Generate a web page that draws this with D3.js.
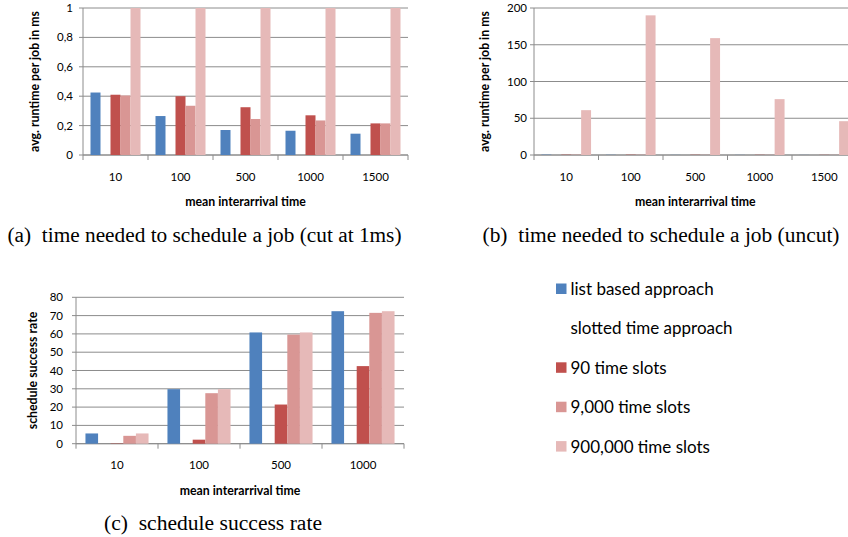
<!DOCTYPE html>
<html>
<head>
<meta charset="utf-8">
<script src="https://cdn.jsdelivr.net/npm/d3@7"></script>
<style>
  body { margin: 0; background: #fff; }
  svg text { font-family: Lato, "Open Sans", sans-serif; fill: #000; }
  .caption { font-family: "Liberation Serif", "Times New Roman", serif; }
</style>
</head>
<body>
<div id="chart"></div>
<script>
// categories (mean interarrival time)
var catsRuntime = ['10', '100', '500', '1000', '1500'];
var catsSuccess = ['10', '100', '500', '1000'];

// series (slot 1 is the empty "slotted time approach" heading)
var seriesNames = ['list based approach', 'slotted time approach', '90 time slots', '9,000 time slots', '900,000 time slots'];
var seriesColors = ['#4f81bd', null, '#c0504d', '#d99694', '#e6b9b8'];

// avg. runtime per job in ms
var runtimeList = [0.425, 0.265, 0.17, 0.165, 0.145];
var runtime90 = [0.41, 0.40, 0.325, 0.27, 0.215];
var runtime9000 = [0.405, 0.335, 0.245, 0.235, 0.215];
var runtime900000 = [61, 190, 159, 76, 46];

// schedule success rate
var successList = [5.6, 29.8, 60.8, 72.4];
var success90 = [0.2, 2.2, 21.4, 42.4];
var success9000 = [4.3, 27.6, 59.6, 71.5];
var success900000 = [5.6, 29.8, 60.8, 72.4];

var yTicksA = [0, 0.2, 0.4, 0.6, 0.8, 1];
var yTicksB = [0, 50, 100, 150, 200];
var yTicksC = [0, 10, 20, 30, 40, 50, 60, 70, 80];

var svg = d3.select('#chart').append('svg')
    .attr('width', 848)
    .attr('height', 537);

var draw_panel = function (p) {
    var g = svg.append('g').attr('transform', 'translate(' + p.left + ',' + p.top + ')');

    var x = d3.scaleBand().domain(p.cats).range([0, p.width]);
    var inner = d3.scaleBand().domain(d3.range(5)).range([0, x.bandwidth()])
        .paddingInner(0).paddingOuter(0.75);
    var y = d3.scaleLinear().domain(p.yDomain).range([p.height, 0]).clamp(true);

    // gridlines + left ticks
    g.selectAll('line.grid')
        .data(p.yTicks)
        .enter().append('line')
        .attr('class', 'grid')
        .attr('x1', -4)
        .attr('x2', p.gridRight || p.width)
        .attr('y1', d => y(d))
        .attr('y2', d => y(d))
        .attr('stroke', '#8c8c8c')
        .attr('stroke-width', 1);

    // y axis line
    g.append('line')
        .attr('x1', 0).attr('x2', 0)
        .attr('y1', 0).attr('y2', p.height)
        .attr('stroke', '#8c8c8c');

    // x axis line
    g.append('line')
        .attr('x1', 0).attr('x2', p.gridRight || p.width)
        .attr('y1', p.height).attr('y2', p.height)
        .attr('stroke', '#8c8c8c');

    // category divider ticks
    g.selectAll('line.ctick')
        .data(d3.range(p.cats.length + 1))
        .enter().append('line')
        .attr('class', 'ctick')
        .attr('x1', d => d * x.step())
        .attr('x2', d => d * x.step())
        .attr('y1', p.height)
        .attr('y2', p.height + 5)
        .attr('stroke', '#8c8c8c');

    // bars
    p.values.forEach(function (vals, si) {
        if (!vals) return;
        g.selectAll('rect.s' + si)
            .data(vals)
            .enter().append('rect')
            .attr('class', 's' + si)
            .attr('x', (d, i) => x(p.cats[i]) + inner(si))
            .attr('y', d => y(d))
            .attr('width', inner.bandwidth())
            .attr('height', d => p.height - y(d))
            .attr('fill', seriesColors[si]);
    });

    // y tick labels
    g.selectAll('text.ytick')
        .data(p.yTicks)
        .enter().append('text')
        .attr('class', 'ytick')
        .attr('x', -p.tickGap)
        .attr('y', d => y(d))
        .attr('dy', '0.35em')
        .attr('text-anchor', 'end')
        .style('font-size', '11.5px')
        .text(p.yFormat);

    // category labels
    g.selectAll('text.xtick')
        .data(p.cats)
        .enter().append('text')
        .attr('class', 'xtick')
        .attr('x', d => x(d) + x.bandwidth() / 2)
        .attr('y', p.height + p.catY)
        .attr('text-anchor', 'middle')
        .style('font-size', '11.5px')
        .text(d => d);

    // axis titles
    g.append('text')
        .attr('x', p.width / 2)
        .attr('y', p.height + p.titleY)
        .attr('text-anchor', 'middle')
        .style('font-size', '12.3px')
        .style('font-weight', 'bold')
        .text('mean interarrival time');

    g.append('text')
        .attr('transform', 'translate(' + p.yLabelX + ',' + (p.height / 2) + ') rotate(-90)')
        .attr('text-anchor', 'middle')
        .attr('dy', '0.35em')
        .style('font-size', '12.3px')
        .style('font-weight', 'bold')
        .text(p.yLabel);
};

var commaFmt = d => String(d).replace('.', ',');

draw_panel({
    left: 83, top: 8, width: 325, height: 147,
    cats: catsRuntime, yDomain: [0, 1], yTicks: yTicksA, yFormat: commaFmt,
    values: [runtimeList, null, runtime90, runtime9000, runtime900000],
    tickGap: 10, catY: 26, titleY: 51, yLabelX: -48,
    yLabel: 'avg. runtime per job in ms'
});

draw_panel({
    left: 534, top: 8, width: 322.5, height: 147, gridRight: 314,
    cats: catsRuntime, yDomain: [0, 200], yTicks: yTicksB, yFormat: d => d,
    values: [runtimeList, null, runtime90, runtime9000, runtime900000],
    tickGap: 7, catY: 26, titleY: 51, yLabelX: -49,
    yLabel: 'avg. runtime per job in ms'
});

draw_panel({
    left: 76, top: 297.3, width: 328, height: 146.4,
    cats: catsSuccess, yDomain: [0, 80], yTicks: yTicksC, yFormat: d => d,
    values: [successList, null, success90, success9000, success900000],
    tickGap: 13, catY: 25, titleY: 51, yLabelX: -43,
    yLabel: 'schedule success rate'
});

// legend
var legend = svg.append('g').attr('transform', 'translate(556,289)');
var rows = legend.selectAll('g')
    .data(seriesNames)
    .enter().append('g')
    .attr('transform', (d, i) => 'translate(0,' + (i * 39.4) + ')');
rows.filter((d, i) => seriesColors[i])
    .append('rect')
    .attr('x', 0).attr('y', -5.5)
    .attr('width', 10.5).attr('height', 10.5)
    .attr('fill', (d) => seriesColors[seriesNames.indexOf(d)]);
rows.append('text')
    .attr('x', 14.5)
    .attr('dy', '0.35em')
    .style('font-size', '17px')
    .text(d => d);

// captions
var captions = [
    {x: 204.5, y: 242, w: 394, t: '(a)\u2002time needed to schedule a job (cut at 1ms)'},
    {x: 661, y: 242, w: 357, t: '(b)\u2002time needed to schedule a job (uncut)'},
    {x: 213, y: 530, w: 218, t: '(c)\u2002schedule success rate'}
];
svg.selectAll('text.caption')
    .data(captions)
    .enter().append('text')
    .attr('class', 'caption')
    .attr('x', d => d.x)
    .attr('y', d => d.y)
    .attr('text-anchor', 'middle')
    .attr('textLength', d => d.w)
    .attr('lengthAdjust', 'spacingAndGlyphs')
    .style('font-size', '20.5px')
    .text(d => d.t);
</script>
</body>
</html>
